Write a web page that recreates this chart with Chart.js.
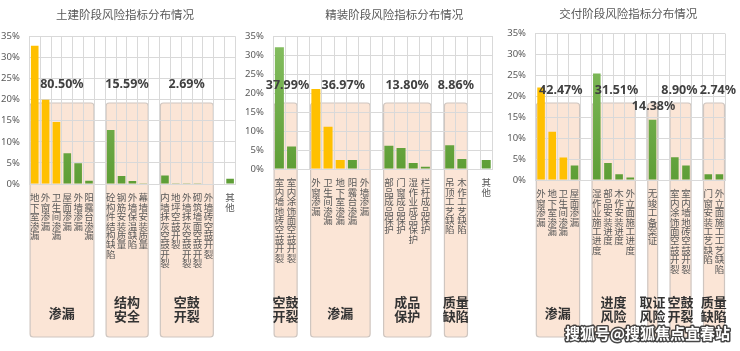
<!DOCTYPE html>
<html><head><meta charset="utf-8">
<script src="https://cdn.jsdelivr.net/npm/chart.js@4.4.1/dist/chart.umd.min.js"></script>
<style>
html,body{margin:0;padding:0;background:#fff;width:740px;height:351px;overflow:hidden}
canvas{position:absolute;top:0}
</style></head><body>
<canvas id="c1" width="244" height="351" style="left:0"></canvas>
<canvas id="c2" width="256" height="351" style="left:244px"></canvas>
<canvas id="c3" width="240" height="351" style="left:500px"></canvas>
<script>
// ---------- DATA ----------
const p1Title = '土建阶段风险指标分布情况';
const p1Categories = ['地下室渗漏','外窗渗漏','卫生间渗漏','屋面渗漏','外墙渗漏','阳露台渗漏','','砼构件结构缺陷','钢筋安装质量','外墙保温缺陷','幕墙安装质量','','内墙抹灰空鼓开裂','地坪空鼓开裂','外墙抹灰空鼓开裂','砌筑墙面空鼓开裂','外墙砖空鼓开裂','','其他'];
const p1Values = [32.8,20.0,14.7,7.3,4.9,0.8,null,12.8,1.9,0.7,0.19,null,2.0,0.2,0.2,0.15,0.14,null,1.22];
const p1Groups = ['渗漏','结构安全','空鼓开裂'];
const p1GroupShares = ['80.50%','15.59%','2.69%'];
const p1GroupSpans = [[0,5],[7,10],[12,16]];

const p2Title = '精装阶段风险指标分布情况';
const p2Categories = ['室内墙地砖空鼓开裂','室内涂饰面空鼓开裂','','外窗渗漏','卫生间渗漏','地下室渗漏','阳露台渗漏','外墙渗漏','','部品成品保护','门窗成品保护','湿作业成品保护','栏杆成品保护','','吊顶工艺缺陷','木作工艺缺陷','','其他'];
const p2Values = [32.05,5.94,null,21.05,11.1,2.35,2.35,0.12,null,6.1,5.5,1.6,0.6,null,6.25,2.61,null,2.38];
const p2Groups = ['空鼓开裂','渗漏','成品保护','质量缺陷'];
const p2GroupShares = ['37.99%','36.97%','13.80%','8.86%'];
const p2GroupSpans = [[0,1],[3,7],[9,12],[14,15]];

const p3Title = '交付阶段风险指标分布情况';
const p3Categories = ['外窗渗漏','地下室渗漏','卫生间渗漏','屋面渗漏','','湿作业施工进度','部品安装进度','木作安装进度','外立面施工进度','','无竣工备案证','','室内涂饰面空鼓开裂','室内墙地砖空鼓开裂','','门窗安装工艺缺陷','外立面施工工艺缺陷'];
const p3Values = [22.1,11.5,5.4,3.47,null,25.45,4.05,1.4,0.61,null,14.38,null,5.45,3.45,null,1.37,1.37];
const p3Groups = ['渗漏','进度风险','取证风险','空鼓开裂','质量缺陷'];
const p3GroupShares = ['42.47%','31.51%','14.38%','8.90%','2.74%'];
const p3GroupSpans = [[0,3],[5,8],[10,10],[12,13],[15,16]];

const yTickValues = [0,5,10,15,20,25,30,35];
const highlightCategories = ['地下室渗漏','外窗渗漏','卫生间渗漏'];
const watermark = '搜狐号@搜狐焦点宜春站';

// ---------- STYLE / LAYOUT ----------
const CJK = '"Noto Sans CJK SC","Noto Sans",sans-serif';
const LAT = '"Noto Sans","Liberation Sans",sans-serif';
const YELLOW = '#FFC000';
const GRID = '#D9D9D9';
const BOX_TOP = 103, BOX_BOTTOM = 337;

function makeChart(id, cfg) {
  const ctx = document.getElementById(id).getContext('2d');
  const decor = {
    id: 'decor',
    beforeDraw(chart) {
      const c = chart.ctx, x = chart.scales.x;
      const half = (x.getPixelForValue(1) - x.getPixelForValue(0)) / 2;
      c.save();
      cfg.spans.forEach(([a, b]) => {
        const l = x.getPixelForValue(a) - half + 0.8;
        const r = x.getPixelForValue(b) + half - 0.5;
        c.beginPath();
        c.roundRect(l, BOX_TOP, r - l, BOX_BOTTOM - BOX_TOP, 3);
        c.fillStyle = '#FBE5D6';
        c.fill();
        c.lineWidth = 1.2;
        c.strokeStyle = '#CFC6C0';
        c.stroke();
      });
      c.restore();
    },
    afterDraw(chart) {
      const c = chart.ctx, x = chart.scales.x;
      c.save();
      c.textAlign = 'center';
      c.textBaseline = 'middle';
      // title
      c.font = '11.5px ' + CJK;
      c.fillStyle = '#595959';
      c.fillText(cfg.title, cfg.titleX, cfg.titleY);
      cfg.spans.forEach(([a, b], i) => {
        const cx = (x.getPixelForValue(a) + x.getPixelForValue(b)) / 2;
        // share
        c.font = 'bold 12.5px ' + LAT;
        c.fillStyle = '#404040';
        const py = (cfg.pctYOverride && cfg.pctYOverride[i]) || cfg.pctY;
        c.fillText(cfg.shares[i], cx + (cfg.pctDx ? cfg.pctDx[i] || 0 : 0), py);
        // group name
        c.font = 'bold 13px ' + CJK;
        c.fillStyle = '#333333';
        const name = cfg.groups[i];
        if (name.length > 2) {
          c.fillText(name.slice(0, 2), cx, 302.5);
          c.fillText(name.slice(2), cx, 316.5);
        } else {
          c.fillText(name, cx, 313.5);
        }
      });
      if (cfg.watermark) {
        c.font = 'bold 15px ' + CJK;
        c.textAlign = 'left';
        c.lineJoin = 'round';
        c.lineWidth = 3;
        c.strokeStyle = 'rgba(40,40,40,0.85)';
        c.strokeText(cfg.watermark, cfg.wmX, cfg.wmY);
        c.fillStyle = '#ffffff';
        c.fillText(cfg.watermark, cfg.wmX, cfg.wmY);
      }
      c.restore();
    }
  };
  const colors = (context) => {
    const lab = cfg.categories[context.dataIndex];
    if (highlightCategories.includes(lab)) return YELLOW;
    const ca = context.chart.chartArea;
    if (!ca) return '#70AD47';
    const g = context.chart.ctx.createLinearGradient(0, ca.top, 0, ca.bottom);
    g.addColorStop(0, '#86BF62');
    g.addColorStop(1, '#5E9E36');
    return g;
  };
  return new Chart(ctx, {
    type: 'bar',
    data: {
      labels: cfg.categories,
      datasets: [{
        data: cfg.values,
        backgroundColor: colors,
        borderWidth: 0,
        barPercentage: cfg.barPct,
        categoryPercentage: 1.0
      }]
    },
    options: {
      responsive: false,
      animation: false,
      devicePixelRatio: 1,
      layout: { autoPadding: false, padding: { left: 0, right: cfg.padRight, top: cfg.padTop, bottom: 0 } },
      plugins: { legend: { display: false }, tooltip: { enabled: false }, title: { display: false } },
      scales: {
        x: {
          type: 'category',
          offset: true,
          grid: { display: true, offset: true, color: GRID, drawTicks: false },
          border: { color: GRID },
          afterFit: (s) => { s.height = cfg.xHeight; },
          ticks: {
            autoSkip: false, maxRotation: 0, minRotation: 0, padding: 9,
            color: '#595959',
            font: { family: CJK, size: 9.5, lineHeight: '9.4px' },
            callback: function (v) { const l = this.getLabelForValue(v); return l ? Array.from(l) : ''; }
          }
        },
        y: {
          min: 0, max: 35,
          afterFit: (s) => { s.width = cfg.yWidth; },
          afterBuildTicks: (s) => { s.ticks = yTickValues.map(v => ({ value: v })); },
          grid: { color: GRID, drawTicks: false },
          border: { color: GRID },
          ticks: {
            padding: 9.5, color: '#595959',
            font: { family: LAT, size: 9.5 },
            callback: (v) => v + '%'
          }
        }
      }
    },
    plugins: [decor]
  });
}

makeChart('c1', {
  title: p1Title, titleX: 125, titleY: 15,
  categories: p1Categories, values: p1Values, groups: p1Groups, shares: p1GroupShares, spans: p1GroupSpans,
  barPct: 0.7, padRight: 6, padTop: 36.5, yWidth: 29.3, xHeight: 351 - 184,
  pctY: 84.3
});
makeChart('c2', {
  title: p2Title, titleX: 394.3 - 244, titleY: 15,
  categories: p2Categories, values: p2Values, groups: p2Groups, shares: p2GroupShares, spans: p2GroupSpans,
  barPct: 0.74, padRight: 1.5, padTop: 36, yWidth: 29.3, xHeight: 351 - 169,
  pctY: 85, pctDx: [2, 3, 0, 0]
});
makeChart('c3', {
  title: p3Title, titleX: 628.3 - 500, titleY: 14,
  categories: p3Categories, values: p3Values, groups: p3Groups, shares: p3GroupShares, spans: p3GroupSpans,
  barPct: 0.68, padRight: 15, padTop: 33.5, yWidth: 35.5, xHeight: 351 - 180,
  pctY: 90.5, pctYOverride: [0, 0, 106, 0, 0], pctDx: [3, 3, 1, -1, 4],
  watermark: watermark, wmX: 65, wmY: 333
});
</script>
</body></html>
